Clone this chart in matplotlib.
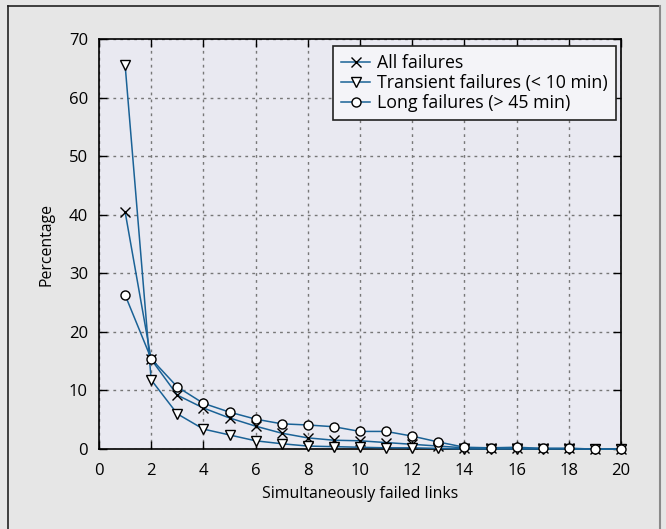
import matplotlib
matplotlib.use('Agg')
import matplotlib.pyplot as plt
from matplotlib.lines import Line2D

plt.rcParams['font.family'] = ['Open Sans', 'DejaVu Sans']

links = list(range(1, 21))
all_failures = [40.5, 15.3, 9.2, 7.0, 5.3, 3.9, 2.7, 1.9, 1.5, 1.4, 1.1, 0.8,
                0.5, 0.2, 0.1, 0.1, 0.1, 0.1, 0.0, 0.0]
transient = [65.6, 11.8, 6.0, 3.4, 2.4, 1.4, 0.9, 0.5, 0.4, 0.3, 0.2, 0.2,
             0.1, 0.0, 0.0, 0.0, 0.0, 0.0, 0.0, 0.0]
long_failures = [26.3, 15.4, 10.6, 7.8, 6.3, 5.1, 4.3, 4.1, 3.8, 3.0, 3.0, 2.2,
                 1.2, 0.3, 0.2, 0.3, 0.1, 0.1, 0.0, 0.0]

labels = ['All failures', 'Transient failures (< 10 min)', 'Long failures (> 45 min)']
markers = ['x', 'v', 'o']
series = [all_failures, transient, long_failures]

line_color = '#1a6296'

fig = plt.figure(figsize=(6.66, 5.29), dpi=100, facecolor='#e6e6e6')
ax = fig.add_axes([99 / 666, 1 - 449 / 529, 522 / 666, 410 / 529])
ax.set_facecolor('#e9e9f1')

# outer frame
fig.add_artist(Line2D([8 / 666, 8 / 666], [0, 1 - 6 / 529], transform=fig.transFigure,
                      color='#222222', linewidth=1.2))
fig.add_artist(Line2D([8 / 666, 660 / 666], [1 - 6 / 529, 1 - 6 / 529],
                      transform=fig.transFigure, color='#222222', linewidth=1.2))
fig.add_artist(Line2D([660 / 666, 660 / 666], [0, 1 - 6 / 529], transform=fig.transFigure,
                      color='#8a8a8a', linewidth=1.5))

for values, marker, label in zip(series, markers, labels):
    ax.plot(links, values, color=line_color, linewidth=1.1, marker=marker,
            markersize=7 if marker != 'o' else 6.5,
            markerfacecolor='white' if marker != 'x' else 'black',
            markeredgecolor='black', markeredgewidth=1.0,
            label=label, clip_on=False, zorder=5)

ax.set_xlim(0, 20)
ax.set_ylim(0, 70)
ax.set_xticks(range(0, 21, 2))
ax.set_yticks(range(0, 71, 10))
ax.tick_params(direction='in', top=True, right=True, length=6, width=1,
               labelsize=12)
ax.tick_params(axis='x', pad=10)
ax.tick_params(axis='y', pad=8)
ax.grid(linestyle=(0, (2, 3)), color='#777777', linewidth=1)
for spine in ax.spines.values():
    spine.set_linewidth(1.2)

ax.set_xlabel('Simultaneously failed links', fontsize=11.4, labelpad=5)
ax.set_ylabel('Percentage', fontsize=11.4, labelpad=10)

leg = ax.legend(loc='upper right', bbox_to_anchor=(0.99, 0.983), fontsize=12.8,
                handlelength=1.6, handletextpad=0.4, borderpad=0.45,
                labelspacing=0.12, fancybox=False, framealpha=1,
                borderaxespad=0.0, facecolor='#f4f4f8', edgecolor='#222222')
leg.get_frame().set_linewidth(1.2)
leg.set_zorder(10)

fig.savefig('out.png', dpi=100, facecolor=fig.get_facecolor())
